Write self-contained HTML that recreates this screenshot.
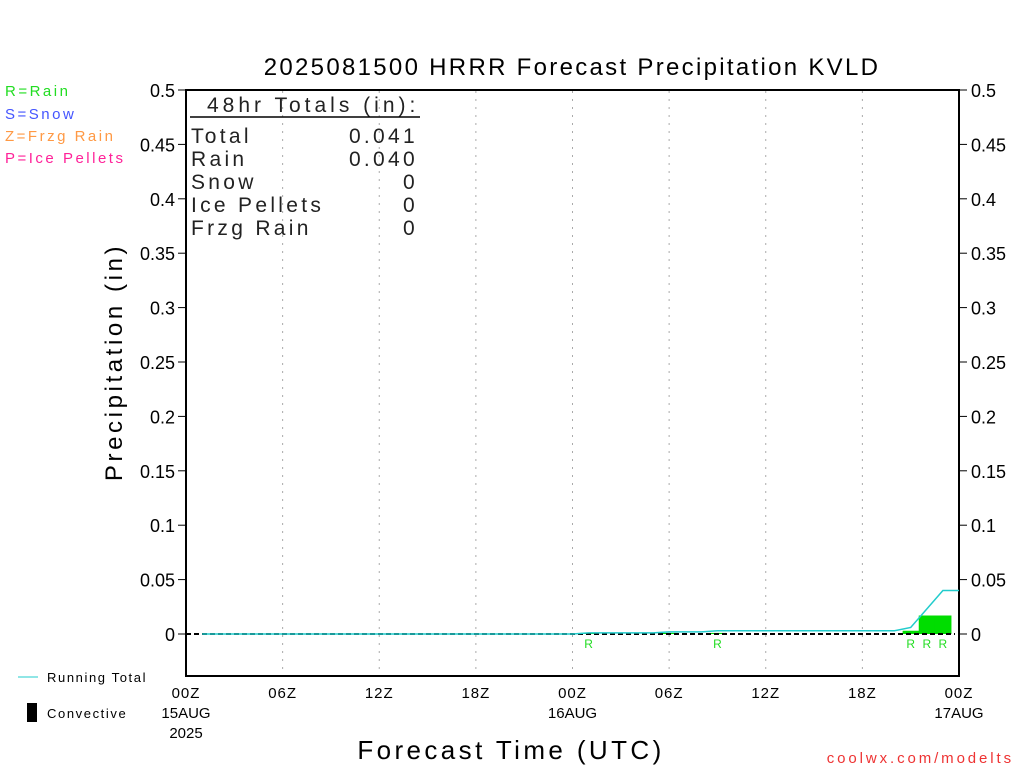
<!DOCTYPE html>
<html><head><meta charset="utf-8"><style>
body{margin:0;background:#fff;width:1024px;height:768px;overflow:hidden}
svg text{font-family:"Liberation Sans",sans-serif}
</style></head><body>
<svg id="c" width="1024" height="768" xmlns="http://www.w3.org/2000/svg">
<text x="572" y="75" font-size="24" text-anchor="middle" letter-spacing="2.3" fill="#000">2025081500 HRRR Forecast Precipitation KVLD</text>
<g font-size="15" letter-spacing="2.5">
<text x="5" y="96" fill="#22dd22">R=Rain</text>
<text x="5" y="119" fill="#4455ff">S=Snow</text>
<text x="5" y="141" fill="#ff9944">Z=Frzg Rain</text>
<text x="5" y="163" fill="#ff2299">P=Ice Pellets</text>
</g>
<rect x="186" y="90" width="773" height="586" fill="none" stroke="#000" stroke-width="2"/>
<g id="grid"></g><g id="yticks"></g><g id="marks"></g>
<g font-size="21" fill="#222" letter-spacing="3.3">
<text x="207" y="112" letter-spacing="4">48hr Totals (in):</text>
<line x1="190" y1="117" x2="420" y2="117" stroke="#000" stroke-width="1.5"/>
<text x="191" y="143">Total</text><text x="418" y="143" text-anchor="end">0.041</text>
<text x="191" y="166">Rain</text><text x="418" y="166" text-anchor="end">0.040</text>
<text x="191" y="189">Snow</text><text x="418" y="189" text-anchor="end">0</text>
<text x="191" y="212">Ice Pellets</text><text x="418" y="212" text-anchor="end">0</text>
<text x="191" y="235">Frzg Rain</text><text x="418" y="235" text-anchor="end">0</text>
</g>
<text transform="translate(122,362) rotate(-90)" font-size="24" text-anchor="middle" letter-spacing="3.6">Precipitation  (in)</text>
<text x="511" y="759" font-size="26" text-anchor="middle" letter-spacing="3.4">Forecast Time (UTC)</text>
<text x="1014" y="763" font-size="15" fill="#ee3333" text-anchor="end" letter-spacing="2.9">coolwx.com/modelts</text>
<g font-size="13" letter-spacing="1.6">
<line x1="18" y1="677" x2="38" y2="677" stroke="#22cccc"/>
<text x="47" y="682">Running Total</text>
<rect x="27" y="703" width="10" height="19" fill="#000"/>
<text x="47" y="718">Convective</text>
</g>
</svg>
<script>
const xLabels=["00Z","06Z","12Z","18Z","00Z","06Z","12Z","18Z","00Z"];
const xSub=["15AUG","","","","16AUG","","","","17AUG"];
const yTicks=[0,0.05,0.1,0.15,0.2,0.25,0.3,0.35,0.4,0.45,0.5];
const hourly=[0,0,0,0,0,0,0,0,0,0,0,0,0,0,0,0,0,0,0,0,0,0,0,0,0.001,0,0,0,0,0.001,0,0,0.001,0,0,0,0,0,0,0,0,0,0,0,0.003,0.017,0.017,0];
const ptype=["","","","","","","","","","","","","","","","","","","","","","","","","R","","","","","","","","R","","","","","","","","","","","","R","R","R",""];
const NS="http://www.w3.org/2000/svg";
const X=h=>186+h*(773/48), Y=v=>634-v*1088;
function mk(t,a,p){const e=document.createElementNS(NS,t);for(const k in a)e.setAttribute(k,a[k]);p.appendChild(e);return e;}
const g=document.getElementById('grid'),yt=document.getElementById('yticks'),m=document.getElementById('marks');
xLabels.forEach((l,i)=>{const x=X(i*6);
 if(i>0&&i<8){const ln=mk('line',{x1:x,y1:91,x2:x,y2:675,stroke:'#aaa','stroke-dasharray':'2,6'},g);
 
 }
 const t=mk('text',{x:x,y:698,'font-size':15,'text-anchor':'middle','letter-spacing':1},g);t.textContent=l;
 
 
 if(xSub[i]){const s=mk('text',{x:x,y:718,'font-size':15,'text-anchor':'middle'},g);s.textContent=xSub[i];
 
 }
});
const yr=mk('text',{x:X(0),y:738,'font-size':15,'text-anchor':'middle'},g);yr.textContent="2025";


yTicks.forEach(v=>{const y=Y(v);
 mk('line',{x1:178,y1:y,x2:186,y2:y,stroke:'#000'},yt);mk('line',{x1:959,y1:y,x2:967,y2:y,stroke:'#000'},yt);
 const a=mk('text',{x:175,y:y+7,'font-size':18,'text-anchor':'end'},yt);a.textContent=String(v);
 
 
 const b=mk('text',{x:971,y:y+7,'font-size':18},yt);b.textContent=String(v);
 
 
});
hourly.forEach((v,i)=>{const h=i+1;
 if(v>0){const r=mk('rect',{x:X(h-0.5),y:Y(v),width:773/48+0.5,height:Y(0)-Y(v),fill:'#00dd00'},m);
 
 }
 if(ptype[i]){const t=mk('text',{x:X(h),y:648,'font-size':12,fill:'#22dd22','text-anchor':'middle'},m);t.textContent=ptype[i];
 
 }
});
const z=mk('line',{x1:186,y1:634,x2:955,y2:634,stroke:'#000','stroke-width':2,'stroke-dasharray':'5,3'},m);


let c=0,pts=[];hourly.forEach((v,i)=>{c+=v;pts.push(X(i+1)+','+Y(c));});
const pl=mk('polyline',{points:pts.join(' '),fill:'none',stroke:'#22cccc','stroke-width':1.5},m);


</script>
</body></html>
